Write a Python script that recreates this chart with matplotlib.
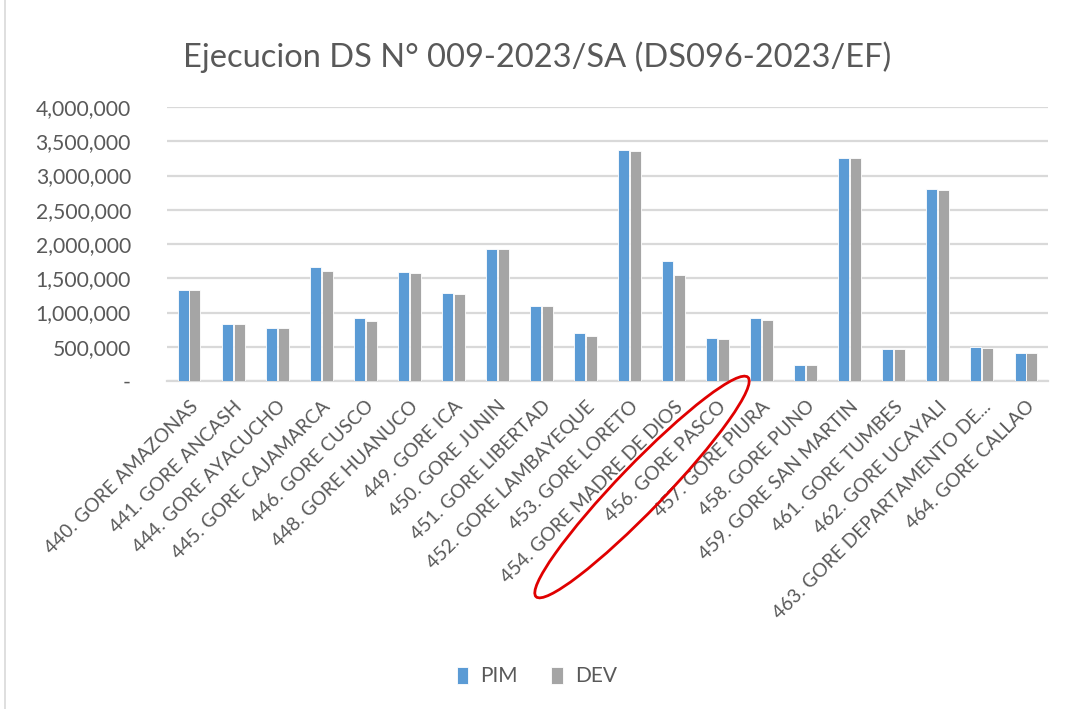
import matplotlib.pyplot as plt
import matplotlib.patches as mpatches
import matplotlib.transforms as mtransforms
from matplotlib.ticker import FuncFormatter
import numpy as np

plt.rcParams['font.family'] = ['Lato', 'DejaVu Sans']

regiones = [
    '440. GORE AMAZONAS', '441. GORE ANCASH', '444. GORE AYACUCHO',
    '445. GORE CAJAMARCA', '446. GORE CUSCO', '448. GORE HUANUCO',
    '449. GORE ICA', '450. GORE JUNIN', '451. GORE LIBERTAD',
    '452. GORE LAMBAYEQUE', '453. GORE LORETO', '454. GORE MADRE DE DIOS',
    '456. GORE PASCO', '457. GORE PIURA', '458. GORE PUNO',
    '459. GORE SAN MARTIN', '461. GORE TUMBES', '462. GORE UCAYALI',
    '463. GORE DEPARTAMENTO DE...', '464. GORE CALLAO',
]
pim = [1327000, 839000, 780000, 1659000, 927000, 1585000, 1288000, 1922000,
       1098000, 702000, 3371000, 1756000, 629000, 927000, 234000, 3259000,
       463000, 2805000, 498000, 405000]
dev = [1327000, 839000, 780000, 1605000, 878000, 1571000, 1268000, 1922000,
       1098000, 663000, 3356000, 1551000, 610000, 898000, 234000, 3259000,
       463000, 2790000, 483000, 405000]

azul = '#5b9bd5'
gris = '#a5a5a5'
texto = '#595959'

fig = plt.figure(figsize=(10.74, 7.09), dpi=100)
ax = fig.add_axes([0.1555, 0.4626, 0.8203, 0.3864])

x = np.arange(len(regiones))
w = 0.25
ax.bar(x - 0.135, pim, w, color=azul, edgecolor='white', linewidth=0.6, label='PIM', zorder=3)
ax.bar(x + 0.135, dev, w, color=gris, edgecolor='white', linewidth=0.6, label='DEV', zorder=3)

ax.set_xlim(-0.5, len(regiones) - 0.5)
ax.set_ylim(0, 4000000)
ax.set_yticks(np.arange(0, 4000001, 500000))
ax.yaxis.set_major_formatter(FuncFormatter(lambda v, p: '-' if v == 0 else f'{int(v):,}'))
ax.grid(axis='y', color='#d9d9d9', linewidth=1.6, zorder=0)
for s in ['top', 'right', 'left']:
    ax.spines[s].set_visible(False)
ax.spines['bottom'].set_color('#d9d9d9')
ax.spines['bottom'].set_linewidth(1.6)
ax.tick_params(axis='both', length=0, colors=texto, labelsize=15.2)
ax.tick_params(axis='y', pad=26)
ax.set_xticks(x)
ax.set_xticklabels(regiones, rotation=45, ha='right', rotation_mode='anchor', fontsize=13.8)
ax.tick_params(axis='x', pad=12)

fig.text(0.5, 0.92, 'Ejecucion DS N° 009-2023/SA (DS096-2023/EF)', ha='center', va='center',
         fontsize=23.5, color=texto)

fig.legend(loc='center', bbox_to_anchor=(0.5, 0.046), ncol=2, frameon=False,
           fontsize=15, handlelength=0.55, handleheight=0.9, handletextpad=0.6,
           columnspacing=1.6, labelcolor=texto)

# borde del area del grafico
fig.add_artist(plt.Line2D([0.005, 0.005], [0, 1], transform=fig.transFigure,
                          color='#d9d9d9', linewidth=1.2))

# elipse roja (anotacion)
elipse = mpatches.Ellipse((642, 709 - 487), 305, 46, angle=46, fill=False,
                          edgecolor='#e00000', linewidth=2,
                          transform=mtransforms.IdentityTransform())
fig.add_artist(elipse)

fig.savefig('out.png', dpi=100)
